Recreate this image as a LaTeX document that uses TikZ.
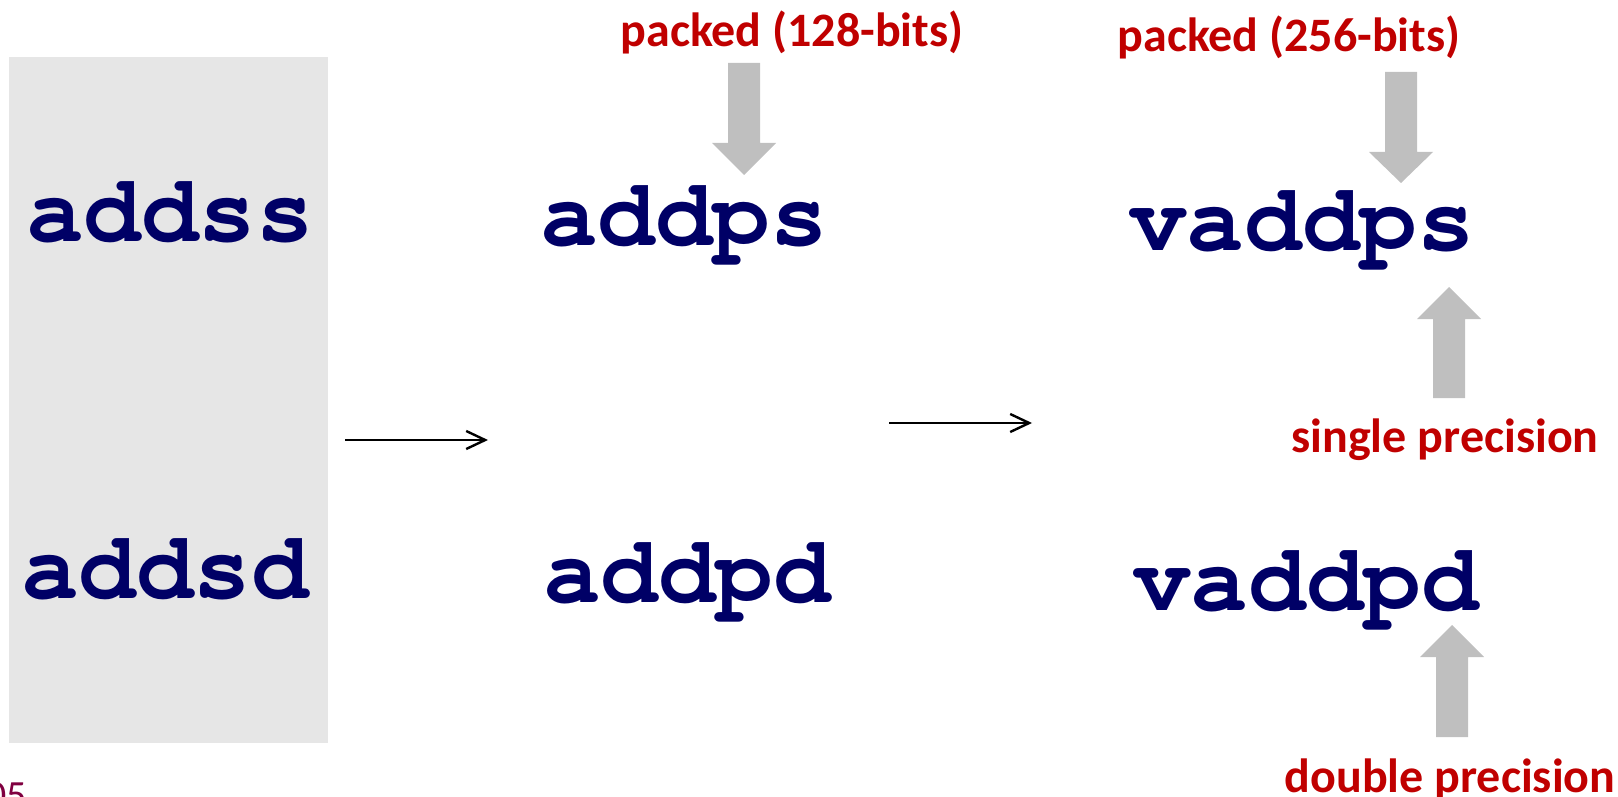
\documentclass[tikz,border=0pt]{standalone}
\usepackage[T1]{fontenc}
\usepackage{fontspec}
\setmainfont{Carlito}
\newcommand{\codefont}{\fontencoding{T1}\fontfamily{pcr}\fontseries{b}\selectfont}
\usetikzlibrary{arrows.meta}

\definecolor{navy}{RGB}{0,0,102}
\definecolor{darkred}{RGB}{192,0,0}
\definecolor{arrowgray}{RGB}{191,191,191}
\definecolor{boxgray}{RGB}{230,230,230}
\definecolor{pagered}{RGB}{128,0,64}

\tikzset{
  instr/.style={font=\codefont\fontsize{48}{48}\selectfont, text=navy, anchor=base, inner sep=0pt},
  note/.style={font=\bfseries\fontsize{24}{24}\selectfont, text=darkred, anchor=base, inner sep=0pt},
  widen/.style={-{Straight Barb[length=9.5pt,width=9pt]}, line width=1.2pt},
}

% block arrow: centre x, tail y, head base y, tip y
\newcommand{\blockarrow}[4]{%
  \fill[arrowgray] (#1-16,#2) -- (#1+16,#2) -- (#1+16,#3) -- (#1+32,#3)
    -- (#1,#4) -- (#1-32,#3) -- (#1-16,#3) -- cycle;}

\begin{document}
\begin{tikzpicture}[x=0.5pt, y=-0.5pt]
  \useasboundingbox (0,0) rectangle (1618,797);

  % scalar column
  \fill[boxgray] (9,57) rectangle (328,743);
  \node[instr] (addss) at (170,242) {addss};
  \node[instr] (addsd) at (165,598) {addsd};

  % SSE column
  \node[instr] (addps) at (684,245) {addps};
  \node[instr] (addpd) at (687,602) {addpd};
  \node[note]  (sse)   at (792,47)  {packed (128-bits)};

  % AVX column
  \node[instr] (vaddps) at (1302,250) {vaddps};
  \node[instr] (vaddpd) at (1306,610) {vaddpd};
  \node[note]  (avx)    at (1289,52)  {packed (256-bits)};
  \node[note]  (single) at (1445,452) {single precision};
  \node[note]  (double) at (1450,792) {double precision};

  \blockarrow{744}{63}{143}{175}
  \blockarrow{1401}{72}{152}{183}
  \blockarrow{1449}{398}{319}{287}
  \blockarrow{1452}{737}{657}{625}

  \coordinate (from1) at (345,440);
  \coordinate (to1)   at (488,440);
  \coordinate (from2) at (889,423);
  \coordinate (to2)   at (1032,423);
  \draw[widen] (from1) -- (to1);
  \draw[widen] (from2) -- (to2);

  \node[font=\fontsize{20}{20}\selectfont, text=pagered, anchor=base west, inner sep=0pt] (page) at (-14,808) {05};
\end{tikzpicture}
\end{document}
